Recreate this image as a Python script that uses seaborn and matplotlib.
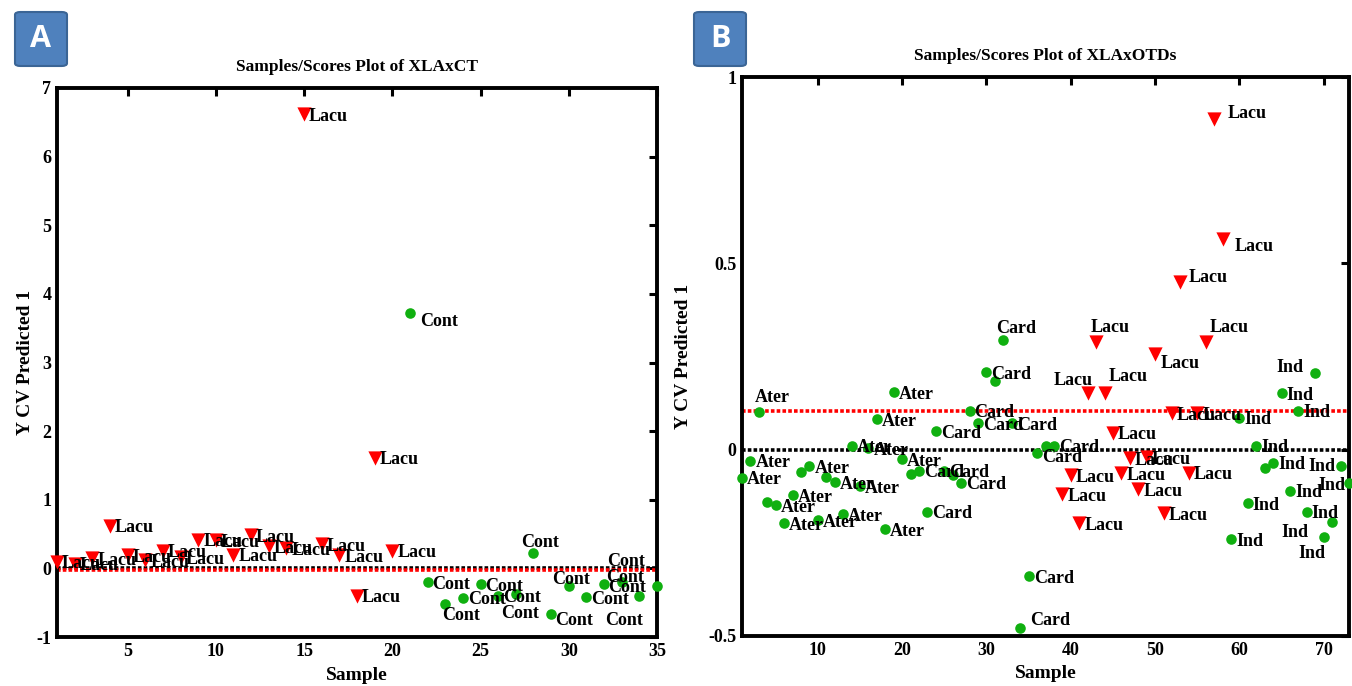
import numpy as np
import pandas as pd
import matplotlib
matplotlib.use("Agg")
import matplotlib.pyplot as plt
from matplotlib.patches import FancyBboxPatch
import seaborn as sns

# ---------------- data ----------------
a_lacu_samples = list(range(1, 21))
a_lacu_values = [0.10, 0.07, 0.15, 0.62, 0.19, 0.12, 0.26, 0.16, 0.42, 0.41,
                 0.20, 0.48, 0.32, 0.29, 6.62, 0.35, 0.19, -0.40, 1.61, 0.26]
a_cont_samples = list(range(21, 36))
a_cont_values = [3.72, -0.20, -0.52, -0.43, -0.23, -0.40, -0.38, 0.23, -0.67,
                 -0.26, -0.42, -0.23, -0.20, -0.40, -0.25]
a_threshold = -0.03

b_ater_samples = list(range(1, 21))
b_ater_values = [-0.076, -0.030, 0.100, -0.140, -0.149, -0.197, -0.122, -0.060,
                 -0.044, -0.190, -0.073, -0.087, -0.173, 0.010, -0.098, 0.004,
                 0.082, -0.214, 0.154, -0.026]
b_card_samples = list(range(21, 39))
b_card_values = [-0.065, -0.057, -0.167, 0.050, -0.057, -0.068, -0.089, 0.104,
                 0.071, 0.208, 0.184, 0.294, 0.071, -0.478, -0.339, -0.010,
                 0.010, 0.010]
b_lacu_samples = list(range(39, 59))
b_lacu_values = [-0.120, -0.068, -0.197, 0.152, 0.290, 0.152, 0.045, -0.063,
                 -0.023, -0.106, -0.020, 0.256, -0.170, 0.098, 0.450, -0.062,
                 0.098, 0.289, 0.887, 0.565]
b_ind_samples = list(range(59, 74))
b_ind_values = [-0.240, 0.085, -0.144, 0.010, -0.050, -0.035, 0.152, -0.110,
                0.105, -0.167, 0.205, -0.235, -0.195, -0.044, -0.090]
b_threshold = 0.104

title_a = "Samples/Scores Plot of XLAxCT"
title_b = "Samples/Scores Plot of XLAxOTDs"
xlabel = "Sample"
ylabel = "Y CV Predicted 1"

# ---------------- label placement (pixels: dx right, dy down, ha) ----------------
DEFAULT = (5, 2, "left")
label_style_a = {
    21: (10, 8, "left"), 23: (-3, 11, "left"), 27: (4, 19, "center"),
    28: (7, -10, "center"), 29: (4, 6, "left"), 30: (2, -7, "center"),
    32: (4, 3, "left"), 33: (3, -5, "center"), 34: (-15, 25, "center"),
    35: (-31, -24, "center"),
}
label_style_b = {
    3: (-4, -15, "left"), 32: (-7, -12, "left"), 34: (10, -7, "left"),
    36: (5, 4, "left"), 42: (5, -13, "right"), 43: (-5, -14, "left"),
    44: (4, -17, "left"), 50: (6, 9, "left"), 53: (8, -4, "left"),
    56: (4, -14, "left"), 57: (14, -6, "left"), 58: (12, 7, "left"),
    69: (-12, -6, "right"), 70: (2, 16, "right"), 71: (-24, 10, "right"),
    72: (-5, 0, "right"), 73: (-4, 2, "right"),
}
hidden_b = {4, 8, 11, 21, 26, 31, 37, 63}

RED = "#FF0000"
GREEN = "#10B010"

sns.set_theme(style="white")
plt.rcParams["font.family"] = ["Liberation Serif", "DejaVu Serif"]
plt.rcParams["font.weight"] = "bold"
plt.rcParams["axes.labelweight"] = "bold"
plt.rcParams["axes.titleweight"] = "bold"
for key in ("text.color", "axes.labelcolor", "xtick.color", "ytick.color",
            "axes.edgecolor", "axes.titlecolor"):
    plt.rcParams[key] = "black"

fig = plt.figure(figsize=(13.52, 6.86), dpi=100)
W, H = 1352, 686


def add_axes_px(left, right, top, bottom):
    return fig.add_axes([left / W, (H - bottom) / H, (right - left) / W, (bottom - top) / H])


def build_df(groups):
    rows = []
    for name, xs, ys in groups:
        for x, y in zip(xs, ys):
            rows.append({"Sample": x, "Pred": y, "Class": name})
    return pd.DataFrame(rows)


def draw_panel(ax, df, threshold, xlim, ylim, xticks, yticks, yticklabels,
               title, styles, hidden, ylabelpad):
    ax.axhline(0, color="black", lw=2.6, ls=(0, (1, 0.6)), zorder=1)
    ax.axhline(threshold, color=RED, lw=2.6, ls=(0, (1, 0.6)), zorder=1)
    markers = {"Lacu": "v", "Cont": "o", "Ater": "o", "Card": "o", "Ind": "o"}
    palette = {"Lacu": RED, "Cont": GREEN, "Ater": GREEN, "Card": GREEN, "Ind": GREEN}
    sizes = {"Lacu": 105, "Cont": 58, "Ater": 58, "Card": 58, "Ind": 58}
    for cls, sub in df.groupby("Class"):
        sns.scatterplot(data=sub, x="Sample", y="Pred", ax=ax, color=palette[cls],
                        marker=markers[cls], s=sizes[cls], linewidth=0,
                        legend=False, zorder=3, clip_on=False)
    for _, r in df.iterrows():
        n = int(r["Sample"])
        if n in hidden:
            continue
        dx, dy, ha = styles.get(n, DEFAULT)
        ax.annotate(r["Class"], (r["Sample"], r["Pred"]), xytext=(dx, -dy),
                    textcoords="offset pixels", ha=ha, va="center",
                    fontsize=13, fontweight="bold", color="black",
                    annotation_clip=False, zorder=4)
    ax.set_xlim(*xlim)
    ax.set_ylim(*ylim)
    ax.set_xticks(xticks)
    ax.set_xticklabels([str(t) for t in xticks])
    ax.set_yticks(yticks)
    ax.set_yticklabels(yticklabels)
    ax.tick_params(direction="in", top=True, right=True, length=6, width=2.2,
                   labelsize=13, pad=4, colors="black")
    for lab in ax.get_xticklabels() + ax.get_yticklabels():
        lab.set_fontweight("bold")
        lab.set_color("black")
    for s in ax.spines.values():
        s.set_linewidth(2.8)
        s.set_color("black")
    ax.set_title(title, fontsize=12.5, fontweight="bold", pad=12, color="black")
    ax.set_xlabel(xlabel, fontsize=14, fontweight="bold", labelpad=5, color="black")
    ax.set_ylabel(ylabel, fontsize=14, fontweight="bold", labelpad=ylabelpad, color="black")
    ax.set_facecolor("white")


df_a = build_df([("Lacu", a_lacu_samples, a_lacu_values),
                 ("Cont", a_cont_samples, a_cont_values)])
df_b = build_df([("Ater", b_ater_samples, b_ater_values),
                 ("Card", b_card_samples, b_card_values),
                 ("Lacu", b_lacu_samples, b_lacu_values),
                 ("Ind", b_ind_samples, b_ind_values)])

ax_a = add_axes_px(57, 657, 88, 637)
draw_panel(ax_a, df_a, a_threshold, (1, 35), (-1, 7), [5, 10, 15, 20, 25, 30, 35],
           list(range(-1, 8)), [str(v) for v in range(-1, 8)], title_a,
           label_style_a, set(), 2)

ax_b = add_axes_px(742, 1349, 77, 636)
draw_panel(ax_b, df_b, b_threshold, (1, 73), (-0.5, 1), [10, 20, 30, 40, 50, 60, 70],
           [-0.5, 0, 0.5, 1], ["-0.5", "0", "0.5", "1"], title_b,
           label_style_b, hidden_b, 12)

# panel letter boxes
for letter, x0 in (("A", 15), ("B", 694)):
    box = FancyBboxPatch(((x0) / W, (H - 66) / H), 52 / W, 54 / H,
                         boxstyle="round,pad=0,rounding_size=0.004",
                         transform=fig.transFigure, facecolor="#4F81BD",
                         edgecolor="#3B6595", linewidth=1.5)
    fig.patches.append(box)
    fig.text((x0 + 26) / W, (H - 39) / H, letter, ha="center", va="center",
             color="white", fontsize=22, fontweight="bold",
             family=["Open Sans", "DejaVu Sans"])

fig.savefig("out.png", dpi=100, facecolor="white")
